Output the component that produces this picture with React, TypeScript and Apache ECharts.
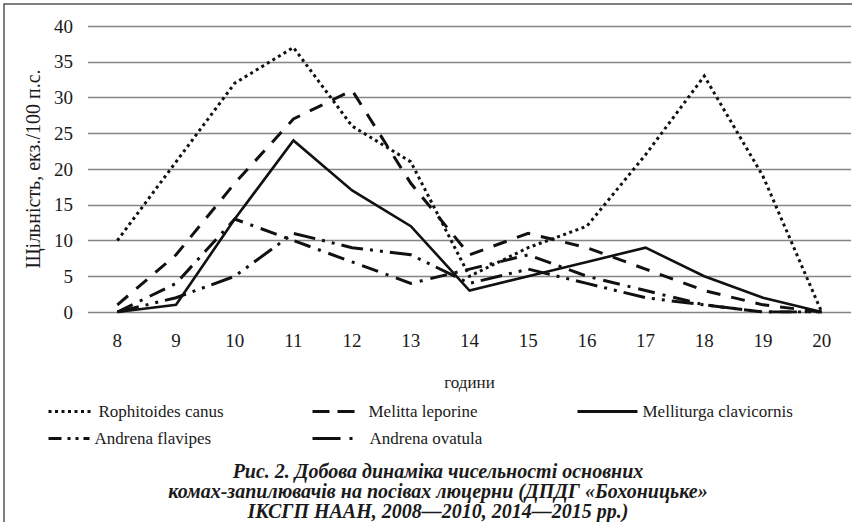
import React, { useEffect, useRef } from 'react';
import * as echarts from 'echarts';

const hours = ['8', '9', '10', '11', '12', '13', '14', '15', '16', '17', '18', '19', '20'];
const rophitoides = [10, 21, 32, 37, 26, 21, 5, 9, 12, 22, 33, 19, 0];
const melitta = [1, 8, 18, 27, 31, 18, 8, 11, 9, 6, 3, 1, 0];
const melliturga = [0, 1, 13, 24, 17, 12, 3, 5, 7, 9, 5, 2, 0];
const flavipes = [0, 2, 5, 11, 9, 8, 4, 6, 4, 2, 1, 0, 0];
const ovatula = [0, 4, 13, 10, 7, 4, 6, 8, 5, 3, 1, 0, 0];

const seriesNames = ['Rophitoides canus', 'Melitta leporine', 'Melliturga clavicornis', 'Andrena flavipes', 'Andrena ovatula'];
const yAxisName = 'Щільність, екз./100 п.с.';
const xAxisName = 'години';
const caption = 'Рис. 2. Добова динаміка чисельності основних\nкомах-запилювачів на посівах люцерни (ДПДГ «Бохоницьке»\nІКСГП НААН, 2008—2010, 2014—2015 рр.)';

const FONT = 'Liberation Serif';
const INK = '#1a1a1a';

const dashes: Record<string, number[] | 'solid'> = {
  'Rophitoides canus': [3, 3.5],
  'Melitta leporine': [14, 11],
  'Melliturga clavicornis': 'solid',
  'Andrena flavipes': [22, 7, 3, 7, 3, 7],
  'Andrena ovatula': [17, 8, 3, 8],
};

export default function App() {
  const ref = useRef<HTMLDivElement>(null);
  useEffect(() => {
    if (!ref.current) return;
    const chart = echarts.init(ref.current, undefined, { renderer: 'svg' });
    const data = [rophitoides, melitta, melliturga, flavipes, ovatula];
    const legendPos = [
      { left: 47, top: 403, w: 45, type: [3, 3.5] },
      { left: 311, top: 403, w: 51, type: [17, 8, 17, 100] },
      { left: 576, top: 403, w: 60, type: 'solid' },
      { left: 47, top: 430, w: 41, type: [13, 6, 3, 5, 3, 5, 10, 100] },
      { left: 311, top: 430, w: 52, type: [28, 9, 3, 100] },
    ];
    const option: any = {
      animation: false,
      backgroundColor: '#ffffff',
      textStyle: { fontFamily: FONT },
      grid: { left: 88, right: 1, top: 26, bottom: 210 },
      xAxis: {
        type: 'category',
        data: hours,
        boundaryGap: true,
        axisLine: { show: false },
        axisTick: { show: false },
        axisLabel: { fontFamily: FONT, fontSize: 19, color: INK, margin: 19, interval: 0 },
        name: xAxisName,
        nameLocation: 'middle',
        nameGap: 62,
        nameTextStyle: { fontFamily: FONT, fontSize: 17, color: INK },
      },
      yAxis: {
        type: 'value',
        min: 0,
        max: 40,
        interval: 5,
        axisLine: { show: false },
        axisTick: { show: false },
        splitLine: { lineStyle: { color: '#858585', width: 1.3 } },
        axisLabel: { fontFamily: FONT, fontSize: 19, color: INK, margin: 15 },
        name: yAxisName,
        nameLocation: 'middle',
        nameGap: 35,
        nameTextStyle: { fontFamily: FONT, fontSize: 20, color: INK },
      },
      legend: seriesNames.map((n, i) => ({
        data: [n],
        left: legendPos[i].left,
        top: legendPos[i].top,
        padding: 0,
        itemWidth: legendPos[i].w,
        itemHeight: 4,
        selectedMode: false,
        textStyle: { fontFamily: FONT, fontSize: 17, color: INK },
        lineStyle: { type: legendPos[i].type, width: 3, color: '#111', cap: 'butt' },
        itemStyle: { color: 'rgba(0,0,0,0)', borderWidth: 0, opacity: 0 },
      })),
      series: seriesNames.map((n, i) => ({
        name: n,
        type: 'line',
        data: data[i],
        symbol: 'none',
        showSymbol: false,
        lineStyle: {
          color: '#111',
          width: i === 2 ? 2.6 : 3,
          type: dashes[n],
          cap: 'butt',
          join: 'miter',
        },
        z: 5 - i,
      })),
      graphic: [
        {
          type: 'rect',
          shape: { x: 4, y: 4, width: 900, height: 600 },
          style: { fill: 'none', stroke: '#555', lineWidth: 1.5 },
          silent: true,
        },
        {
          type: 'text',
          x: 438,
          y: 461,
          style: {
            text: caption,
            font: 'italic bold 20px "Liberation Serif", serif',
            fill: INK,
            textAlign: 'center',
            lineHeight: 20,
          },
        },
      ],
    };
    chart.setOption(option);
    return () => chart.dispose();
  }, []);
  return <div ref={ref} style={{ position: 'absolute', left: 0, top: 0, width: 852, height: 522 }} />;
}
